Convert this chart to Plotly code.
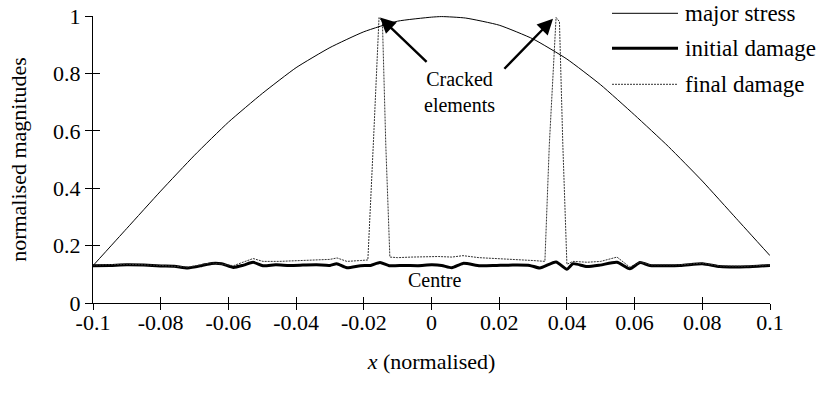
import plotly.graph_objects as go

FONT = "Times New Roman, Liberation Serif, serif"

# ---- data ----
x_ticks = [-0.1, -0.08, -0.06, -0.04, -0.02, 0, 0.02, 0.04, 0.06, 0.08, 0.1]
x_tick_text = ["-0.1", "-0.08", "-0.06", "-0.04", "-0.02", "0", "0.02", "0.04", "0.06", "0.08", "0.1"]
y_ticks = [0, 0.2, 0.4, 0.6, 0.8, 1]
y_tick_text = ["0", "0.2", "0.4", "0.6", "0.8", "1"]

stress_x = [-0.1, -0.09, -0.08, -0.07, -0.06, -0.05, -0.04, -0.03, -0.02, -0.01, 0.0, 0.003,
            0.01, 0.02, 0.03, 0.04, 0.05, 0.06, 0.07, 0.08, 0.09, 0.1]
stress_y = [0.13, 0.26, 0.39, 0.515, 0.63, 0.73, 0.82, 0.89, 0.945, 0.982, 0.996, 0.998,
            0.993, 0.968, 0.92, 0.85, 0.76, 0.655, 0.545, 0.425, 0.295, 0.165]

init_x = [-0.1, -0.095, -0.09, -0.085, -0.08, -0.076, -0.072, -0.068, -0.065, -0.062, -0.0585,
          -0.0555, -0.0527, -0.0498, -0.046, -0.042, -0.038, -0.034, -0.030, -0.028, -0.025,
          -0.021, -0.018, -0.0152, -0.0125, -0.008, -0.004, 0.0, 0.003, 0.006, 0.0093, 0.0143,
          0.0193, 0.024, 0.029, 0.032, 0.0368, 0.040, 0.0418, 0.0459, 0.0498, 0.0548, 0.0586,
          0.0616, 0.0645, 0.0734, 0.080, 0.0852, 0.093, 0.1]
init_y = [0.130, 0.131, 0.133, 0.132, 0.129, 0.128, 0.122, 0.130, 0.138, 0.137, 0.124,
          0.132, 0.142, 0.130, 0.133, 0.131, 0.132, 0.133, 0.131, 0.137, 0.123,
          0.130, 0.131, 0.141, 0.130, 0.131, 0.130, 0.133, 0.131, 0.123, 0.138, 0.130,
          0.131, 0.132, 0.131, 0.122, 0.143, 0.118, 0.137, 0.127, 0.132, 0.142, 0.119,
          0.141, 0.131, 0.131, 0.137, 0.127, 0.126, 0.131]

final_x = [-0.1, -0.09, -0.08, -0.072, -0.065, -0.0585, -0.0527, -0.0498, -0.045, -0.040,
           -0.035, -0.030, -0.0279, -0.025, -0.021, -0.0188, -0.0172, -0.0155, -0.0145,
           -0.0135, -0.0123, -0.010, -0.006, -0.002, 0.002, 0.006, 0.0093, 0.014, 0.020,
           0.026, 0.030, 0.0335, 0.0348, 0.0368, 0.0378, 0.0388, 0.040, 0.0418, 0.046,
           0.050, 0.0548, 0.0586, 0.0616, 0.0645, 0.0734, 0.080, 0.0852, 0.093, 0.1]
final_y = [0.132, 0.135, 0.131, 0.125, 0.140, 0.130, 0.155, 0.145, 0.145, 0.147,
           0.148, 0.152, 0.157, 0.145, 0.148, 0.150, 0.55, 0.995, 0.98,
           0.55, 0.16, 0.158, 0.160, 0.162, 0.162, 0.160, 0.165, 0.158, 0.155,
           0.150, 0.148, 0.145, 0.55, 0.995, 0.98, 0.55, 0.135, 0.145, 0.142,
           0.145, 0.160, 0.125, 0.143, 0.133, 0.133, 0.139, 0.129, 0.128, 0.133]

legend_names = ["major stress", "initial damage", "final damage"]

# ---- figure ----
fig = go.Figure()
fig.add_trace(go.Scatter(x=init_x, y=init_y, mode="lines", name=legend_names[1],
                         line=dict(color="black", width=3, shape="spline", smoothing=0.6),
                         showlegend=False))
fig.add_trace(go.Scatter(x=final_x, y=final_y, mode="lines", name=legend_names[2],
                         line=dict(color="#333333", width=1, dash="2px,1px"),
                         showlegend=False))
fig.add_trace(go.Scatter(x=stress_x, y=stress_y, mode="lines", name=legend_names[0],
                         line=dict(color="black", width=1, shape="spline", smoothing=0.5),
                         showlegend=False))
# helper trace so the overlaying tick axes are drawn
fig.add_trace(go.Scatter(x=[x_ticks[0]], y=[y_ticks[0]], xaxis="x2", yaxis="y2",
                         mode="markers", marker=dict(opacity=0), showlegend=False,
                         hoverinfo="skip"))

axis_font = dict(family=FONT, size=22, color="black")

fig.update_layout(
    width=824, height=397,
    margin=dict(l=93, r=54, t=15.7, b=94.3, pad=0, autoexpand=False),
    paper_bgcolor="white", plot_bgcolor="white",
    font=dict(family=FONT, size=22, color="black"),
    xaxis=dict(range=[-0.1, 0.1], tickvals=x_ticks, ticktext=x_tick_text,
               showline=True, linecolor="black", linewidth=1, automargin=False,
               ticks="inside", ticklen=6, tickcolor="black", tickwidth=1,
               ticklabeloverflow="allow",
               showgrid=False, zeroline=False, tickfont=axis_font,
               title=dict(text="<i>x</i> (normalised)", font=axis_font, standoff=19)),
    xaxis2=dict(range=[-0.1, 0.1], tickvals=x_ticks, overlaying="x", anchor="y2",
                side="bottom", ticks="outside", ticklen=6, tickcolor="black", automargin=False,
                showticklabels=False, showline=False, showgrid=False, zeroline=False),
    yaxis=dict(range=[0, 1], tickvals=y_ticks, ticktext=y_tick_text,
               showline=True, linecolor="black", linewidth=1, automargin=False,
               ticks="outside", ticklen=7, tickcolor="black", tickwidth=1,
               ticklabeloverflow="allow",
               showgrid=False, zeroline=False, tickfont=axis_font,
               title=dict(text="normalised magnitudes", font=axis_font, standoff=20)),
    yaxis2=dict(range=[0, 1], tickvals=y_ticks, overlaying="y", anchor="x2",
                side="left", ticks="inside", ticklen=7, tickcolor="black", automargin=False,
                showticklabels=False, showline=False, showgrid=False, zeroline=False),
    showlegend=False,
)

# manual legend (line samples + labels), positioned in paper coordinates
W, H = 677.0, 287.0
def px_x(p):
    return (p - 93) / W
def px_y(p):
    return (302.7 - p) / H

legend_rows = [(13, dict(color="black", width=1)),
               (48, dict(color="black", width=3)),
               (84, dict(color="#333333", width=1, dash="2px,1px"))]
for name, (py, ln) in zip(legend_names, legend_rows):
    fig.add_shape(type="line", xref="paper", yref="paper",
                  x0=px_x(612), x1=px_x(678), y0=px_y(py), y1=px_y(py), line=ln)
    fig.add_annotation(xref="paper", yref="paper", x=px_x(683), y=px_y(py),
                       text=name, showarrow=False, xanchor="left", yanchor="middle",
                       font=dict(family=FONT, size=23, color="black"))

# labels and arrows
fig.add_annotation(x=0.0084, y=0.736, text="Cracked<br>elements", showarrow=False,
                   font=dict(family=FONT, size=20, color="black"), align="center")
fig.add_annotation(x=0.001, y=0.08, text="Centre", showarrow=False,
                   font=dict(family=FONT, size=20, color="black"))
fig.add_annotation(x=-0.0152, y=0.995, ax=-0.001, ay=0.835, axref="x", ayref="y",
                   showarrow=True, arrowhead=2, arrowsize=1.3, arrowwidth=2.4,
                   arrowcolor="black", text="")
fig.add_annotation(x=0.0359, y=0.99, ax=0.0211, ay=0.811, axref="x", ayref="y",
                   showarrow=True, arrowhead=2, arrowsize=1.3, arrowwidth=2.4,
                   arrowcolor="black", text="")

fig.write_html("out.html", config={"displayModeBar": False},
               post_script="document.body.style.margin='0px';")
